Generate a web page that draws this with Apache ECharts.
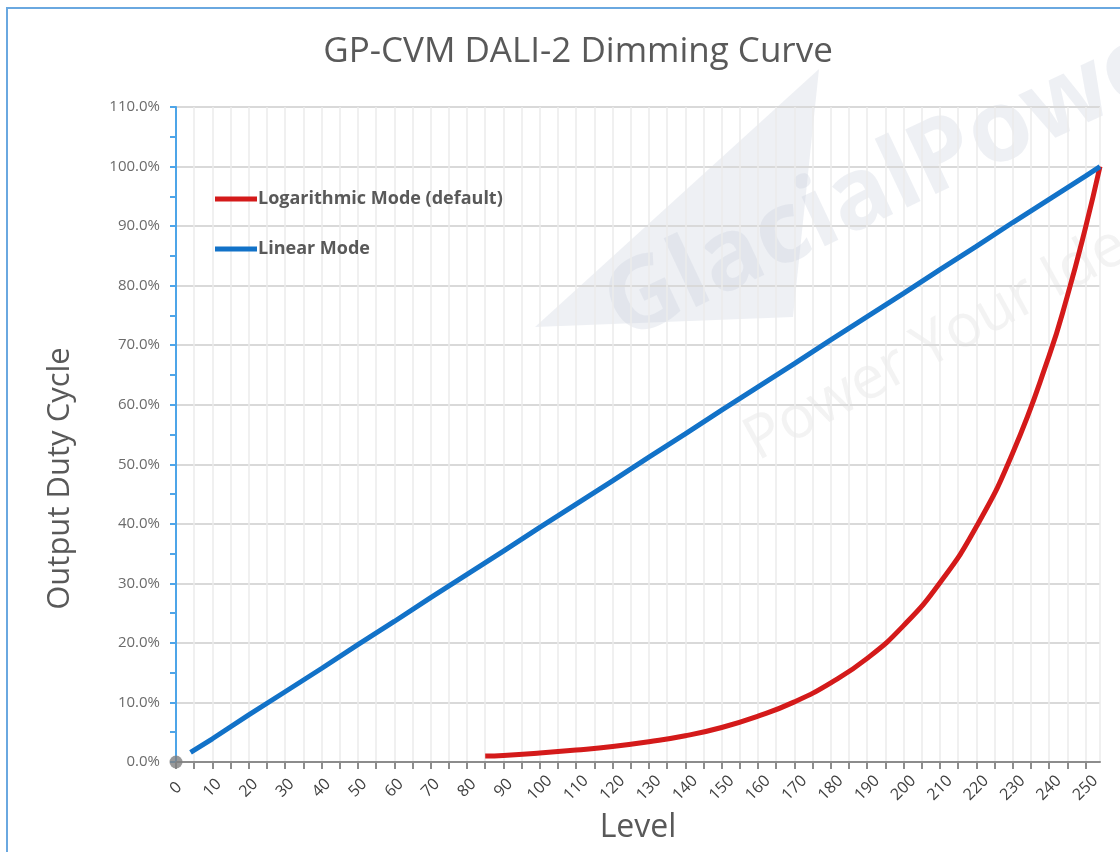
<!DOCTYPE html>
<html>
<head>
<meta charset="utf-8">
<title>GP-CVM DALI-2 Dimming Curve</title>
<script src="https://cdn.jsdelivr.net/npm/echarts@6/dist/echarts.min.js"></script>
<style>
  html, body { margin: 0; padding: 0; background: #fff; }
  #chart { width: 1120px; height: 852px; }
</style>
</head>
<body>
<div id="chart"></div>
<script>
// levels and output duty cycle (%)
const linearLevels = [4, 10, 20, 30, 40, 50, 60, 70, 80, 90, 100, 110, 120, 130, 140, 150, 160, 170, 180, 190, 200, 210, 220, 230, 240, 250, 254]
const linearValues = [1.6, 3.9, 7.9, 11.8, 15.7, 19.7, 23.6, 27.6, 31.5, 35.4, 39.4, 43.3, 47.2, 51.2, 55.1, 59.1, 63.0, 66.9, 70.9, 74.8, 78.7, 82.7, 86.6, 90.6, 94.5, 98.4, 100]

const logLevels = [85, 90, 100, 110, 120, 130, 140, 150, 160, 170, 180, 190, 200, 210, 220, 230, 240, 245, 250, 254]
const logValues = [1.0, 1.1, 1.5, 2.0, 2.6, 3.4, 4.4, 5.8, 7.7, 10.1, 13.3, 17.4, 22.9, 30.1, 39.5, 51.9, 68.2, 78.2, 89.7, 100]

const seriesNames = ['Logarithmic Mode (default)', 'Linear Mode']
const seriesColors = ['#d41a1a', '#1272c8']

const zip = (xs, ys) => xs.map((x, i) => [x, ys[i]])

const textColor = '#595959'
const font = '"Open Sans", "Noto Sans", sans-serif'

const myChart = echarts.init(document.getElementById('chart'), null, { renderer: 'canvas' })

const option = {
  backgroundColor: '#fff',
  animation: false,
  title: {
    text: 'GP-CVM DALI-2 Dimming Curve',
    left: 573,
    top: 30,
    textAlign: 'center',
    textStyle: { fontFamily: font, fontSize: 35, fontWeight: 'normal', color: textColor }
  },
  legend: {
    data: seriesNames,
    orient: 'vertical',
    left: 215,
    top: 190,
    padding: 0,
    itemGap: 32,
    itemWidth: 42,
    itemHeight: 5,
    icon: 'rect',
    textStyle: { fontFamily: font, fontSize: 18, fontWeight: 'bold', color: textColor, padding: [0, 0, 0, -4] }
  },
  grid: { left: 176, right: 20, top: 107, bottom: 90 },
  xAxis: {
    type: 'value',
    min: 0,
    max: 254,
    interval: 5,
    name: 'Level',
    nameLocation: 'middle',
    nameGap: 50,
    nameTextStyle: { fontFamily: font, fontSize: 32, color: textColor },
    axisLine: { lineStyle: { color: '#8c8c8c', width: 2 } },
    axisTick: { show: true, length: 7, lineStyle: { color: '#8c8c8c', width: 2 } },
    axisLabel: {
      rotate: 45,
      margin: 26,
      align: 'center',
      verticalAlign: 'middle',
      fontFamily: font,
      fontSize: 16,
      color: '#404040',
      showMaxLabel: false,
      formatter: v => (v % 10 === 0 ? String(v) : '')
    },
    splitLine: { show: true, lineStyle: { color: '#ebebeb', width: 1.5 } }
  },
  yAxis: {
    type: 'value',
    min: 0,
    max: 110,
    interval: 10,
    name: 'Output Duty Cycle',
    nameLocation: 'middle',
    nameGap: 100,
    nameTextStyle: { fontFamily: font, fontSize: 31, color: textColor, padding: [0, 88, 0, 0] },
    axisLine: { show: true, lineStyle: { color: '#4ea5e8', width: 2 } },
    axisTick: { show: true, length: 6, lineStyle: { color: '#4ea5e8', width: 2 } },
    minorTick: { show: true, splitNumber: 2, length: 6, lineStyle: { color: '#4ea5e8', width: 2 } },
    axisLabel: {
      margin: 16,
      fontFamily: font,
      fontSize: 15,
      color: '#6b6b6b',
      formatter: v => v.toFixed(1) + '%'
    },
    splitLine: { show: true, lineStyle: { color: '#d9d9d9', width: 2 } }
  },
  graphic: [
    // outer frame of the pasted chart
    { type: 'rect', z: 100, silent: true, shape: { x: 7, y: 8, width: 1200, height: 900 }, style: { fill: 'none', stroke: '#6aa8e0', lineWidth: 2 } },
    // faint watermark
    { type: 'polygon', z: -10, silent: true, shape: { points: [[819, 69], [535, 327], [793, 317]] }, style: { fill: 'rgba(200,205,220,0.3)' } },
    { type: 'text', z: -9, silent: true, x: 590, y: 270, rotation: 0.44, style: { text: 'GlacialPower', fontFamily: font, fontSize: 100, fontWeight: 'bold', fill: 'rgba(200,205,220,0.3)' } },
    { type: 'text', z: -9, silent: true, x: 735, y: 420, rotation: 0.5, style: { text: 'Power Your Ideas', fontFamily: font, fontSize: 60, fill: 'rgba(200,200,200,0.22)' } }
  ],
  series: [
    {
      name: seriesNames[0],
      type: 'line',
      data: zip(logLevels, logValues),
      smooth: true,
      showSymbol: false,
      symbol: 'none',
      color: seriesColors[0],
      lineStyle: { width: 5, color: seriesColors[0] },
      z: 3
    },
    {
      name: seriesNames[1],
      type: 'line',
      data: zip(linearLevels, linearValues),
      showSymbol: false,
      symbol: 'none',
      color: seriesColors[1],
      lineStyle: { width: 5, color: seriesColors[1] },
      z: 3
    },
    {
      name: 'origin',
      type: 'scatter',
      data: [[0, 0]],
      symbolSize: 13,
      itemStyle: { color: '#808080' },
      z: 4
    }
  ]
}

myChart.setOption(option)
</script>
</body>
</html>
